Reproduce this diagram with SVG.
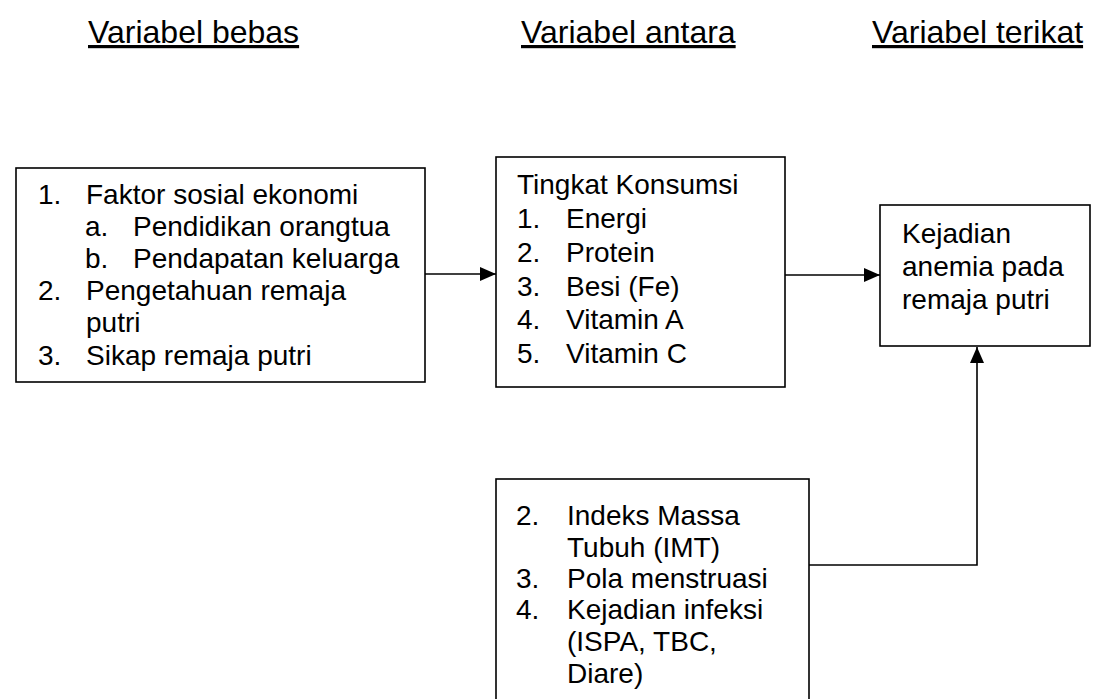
<svg xmlns="http://www.w3.org/2000/svg" width="1093" height="699" viewBox="0 0 1093 699">
<defs>
<style>
.t{font-family:"Liberation Sans",Arial,sans-serif;font-size:28px;fill:#000}
.h{font-family:"Liberation Sans",Arial,sans-serif;font-size:32px;fill:#000;text-decoration:underline}
.box{fill:#fff;stroke:#000;stroke-width:1.6}
.ln{fill:none;stroke:#000;stroke-width:1.6}
</style>
<marker id="ah" markerWidth="16" markerHeight="14" refX="16" refY="7" orient="auto" markerUnits="userSpaceOnUse">
<path d="M0,0 L16,7 L0,14 Z" fill="#000"/>
</marker>
</defs>
<rect width="1093" height="699" fill="#fff"/>
<g id="headers">
<text class="h" x="88" y="43">Variabel bebas</text>
<text class="h" x="521" y="43">Variabel antara</text>
<text class="h" x="872" y="43">Variabel terikat</text>
</g>
<g id="connectors">
<line class="ln" x1="425" y1="274" x2="496" y2="274" marker-end="url(#ah)"/>
<line class="ln" x1="785" y1="275" x2="880" y2="275" marker-end="url(#ah)"/>
<polyline class="ln" points="809,565 977,565 977,347" marker-end="url(#ah)"/>
</g>
<g id="bebas">
<rect class="box" x="16" y="168" width="409" height="214"/>
<text class="t">
<tspan x="38" y="204">1.</tspan><tspan x="86" y="204">Faktor sosial ekonomi</tspan>
<tspan x="85" y="236">a.</tspan><tspan x="133" y="236">Pendidikan orangtua</tspan>
<tspan x="85" y="268">b.</tspan><tspan x="133" y="268">Pendapatan keluarga</tspan>
<tspan x="38" y="300">2.</tspan><tspan x="86" y="300">Pengetahuan remaja</tspan>
<tspan x="86" y="332">putri</tspan>
<tspan x="38" y="365">3.</tspan><tspan x="86" y="365">Sikap remaja putri</tspan>
</text>
</g>
<g id="antara">
<rect class="box" x="496" y="157" width="289" height="230"/>
<text class="t">
<tspan x="517" y="194">Tingkat Konsumsi</tspan>
<tspan x="517" y="228">1.</tspan><tspan x="566" y="228">Energi</tspan>
<tspan x="517" y="262">2.</tspan><tspan x="566" y="262">Protein</tspan>
<tspan x="517" y="296">3.</tspan><tspan x="566" y="296">Besi (Fe)</tspan>
<tspan x="517" y="329">4.</tspan><tspan x="566" y="329">Vitamin A</tspan>
<tspan x="517" y="363">5.</tspan><tspan x="566" y="363">Vitamin C</tspan>
</text>
</g>
<g id="terikat">
<rect class="box" x="880" y="205" width="210" height="141"/>
<text class="t">
<tspan x="902" y="243">Kejadian</tspan>
<tspan x="902" y="276">anemia pada</tspan>
<tspan x="902" y="309">remaja putri</tspan>
</text>
</g>
<g id="lain">
<rect class="box" x="496" y="479" width="313" height="240"/>
<text class="t">
<tspan x="516" y="525">2.</tspan><tspan x="567" y="525">Indeks Massa</tspan>
<tspan x="567" y="557">Tubuh (IMT)</tspan>
<tspan x="516" y="588">3.</tspan><tspan x="567" y="588">Pola menstruasi</tspan>
<tspan x="516" y="619">4.</tspan><tspan x="567" y="619">Kejadian infeksi</tspan>
<tspan x="567" y="651">(ISPA, TBC,</tspan>
<tspan x="567" y="683">Diare)</tspan>
</text>
</g>
</svg>
